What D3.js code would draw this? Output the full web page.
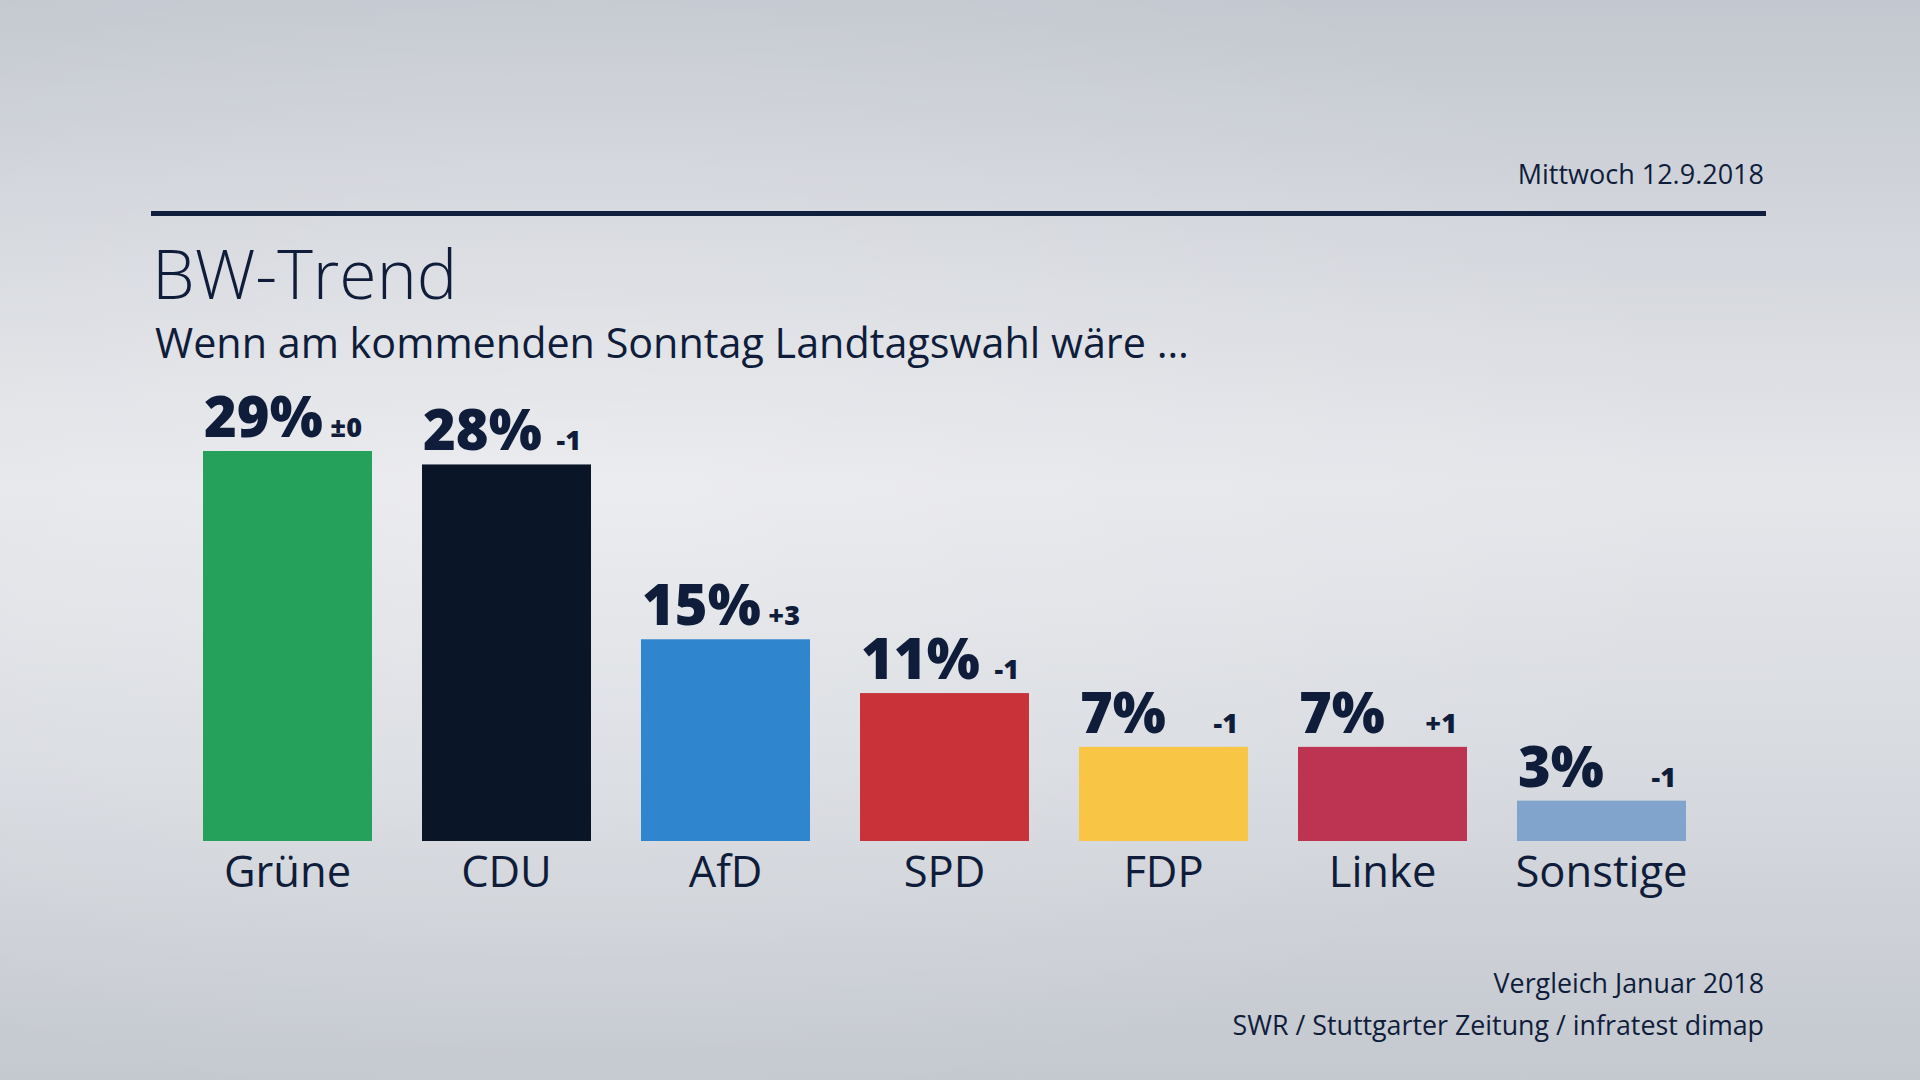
<!DOCTYPE html>
<html><head><meta charset="utf-8">
<script src="https://cdn.jsdelivr.net/npm/d3@7"></script>
<style>
html,body{margin:0;padding:0;width:1920px;height:1080px;overflow:hidden;}
svg{display:block;}
text{font-family:"Open Sans","Noto Sans",sans-serif;}
</style></head>
<body>
<script>
const categories = ["Grüne","CDU","AfD","SPD","FDP","Linke","Sonstige"];
const values = [29,28,15,11,7,7,3];
const changes = ["±0","-1","+3","-1","-1","+1","-1"];
const barColors = ["#26a15b","#0a1528","#3085cf","#c83238","#f8c644","#bd3453","#80a4cc"];
const titleText = "BW-Trend";
const subtitleText = "Wenn am kommenden Sonntag Landtagswahl wäre …";
const dateText = "Mittwoch 12.9.2018";
const footerLines = ["Vergleich Januar 2018","SWR / Stuttgarter Zeitung / infratest dimap"];

const W = 1920, H = 1080, ink = "#0f1d3b";
const svg = d3.select("body").append("svg").attr("width",W).attr("height",H);
const defs = svg.append("defs");
const lg = defs.append("linearGradient").attr("id","bg").attr("x1",0).attr("y1",0).attr("x2",0).attr("y2",1);
[[0,"#c3c7cf"],[0.2,"#d2d5db"],[0.45,"#e5e6ea"],[0.7,"#d8dbe0"],[1,"#c4c8cf"]].forEach(s=>lg.append("stop").attr("offset",s[0]).attr("stop-color",s[1]));
svg.append("rect").attr("width",W).attr("height",H).attr("fill","url(#bg)");
const rg = defs.append("radialGradient").attr("id","glow").attr("cx",0.3).attr("cy",0.45).attr("r",0.6);
rg.append("stop").attr("offset",0).attr("stop-color","#ffffff").attr("stop-opacity",0.25);
rg.append("stop").attr("offset",1).attr("stop-color","#ffffff").attr("stop-opacity",0);
svg.append("rect").attr("width",W).attr("height",H).attr("fill","url(#glow)");

// header
svg.append("text").attr("x",1764).attr("y",184).attr("text-anchor","end")
  .attr("font-size",27).attr("fill",ink).text(dateText);
svg.append("rect").attr("x",151).attr("y",211).attr("width",1615).attr("height",5).attr("fill","#0f1f3d");
svg.append("text").attr("x",152).attr("y",299).attr("font-size",68).attr("font-weight",300)
  .attr("fill",ink).text(titleText);
svg.append("text").attr("x",155).attr("y",358).attr("font-size",41.3).attr("font-weight",400)
  .attr("fill",ink).text(subtitleText);

// scales
const x = d3.scaleBand().domain(categories).range([203,1686]).paddingInner(50/219).paddingOuter(0);
const y = d3.scaleLinear().domain([0,29]).range([841,451]);

const g = svg.append("g");
g.selectAll("rect.bar").data(categories).join("rect").attr("class","bar")
  .attr("x",d=>x(d)).attr("width",x.bandwidth())
  .attr("y",(d,i)=>y(values[i])).attr("height",(d,i)=>y(0)-y(values[i]))
  .attr("fill",(d,i)=>barColors[i]);

g.selectAll("text.val").data(categories).join("text").attr("class","val")
  .attr("x",d=>x(d)+1).attr("y",(d,i)=>y(values[i])-14)
  .attr("font-size",56).attr("font-weight",800).attr("fill",ink)
  .text((d,i)=>values[i]+"%");

g.selectAll("text.chg").data(categories).join("text").attr("class","chg")
  .attr("x",d=>x(d)+x.bandwidth()-10).attr("y",(d,i)=>y(values[i])-14)
  .attr("text-anchor","end").attr("font-size",27).attr("font-weight",800).attr("fill",ink)
  .text((d,i)=>changes[i]);

// x axis labels
const xAxis = d3.axisBottom(x).tickSize(0).tickPadding(0);
const ax = svg.append("g").attr("transform","translate(0,887)").call(xAxis);
ax.select(".domain").remove();
ax.selectAll("text").attr("dy",0).attr("font-size",43.5).attr("fill",ink)
  .attr("font-family",'"Open Sans","Noto Sans",sans-serif');

// footer
footerLines.forEach((t,i)=>{
  svg.append("text").attr("x",1764).attr("y",993+i*42).attr("text-anchor","end")
    .attr("font-size",26.8).attr("fill",ink).text(t);
});
</script>
</body></html>
